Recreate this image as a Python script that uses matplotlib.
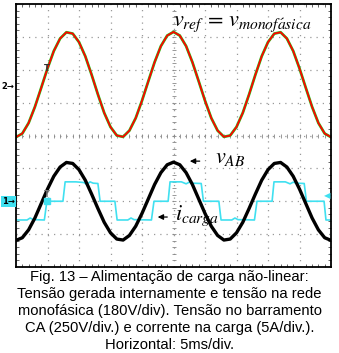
import numpy as np
import matplotlib
matplotlib.use("Agg")
from matplotlib import pyplot as plt

# Oscilloscope screen: 10 x 8 divisions, values read in divisions
# time axis sampled every 1/5 div (5ms/div)
t_div = np.arange(0, 10.01, 0.2)

# v_monofasica / v_ref (ch2, 180V/div)
v_mono = [-0.05, 0.06, 0.38, 0.87, 1.45, 2.04, 2.57, 2.95, 3.14, 3.10, 2.84, 2.41, 1.85,
          1.25, 0.69, 0.26, 0.00, -0.04, 0.15, 0.53, 1.06, 1.65, 2.23, 2.72, 3.04, 3.15,
          3.04, 2.72, 2.23, 1.65, 1.06, 0.53, 0.15, -0.04, 0.00, 0.26, 0.69, 1.25, 1.85,
          2.41, 2.84, 3.10, 3.14, 2.95, 2.57, 2.04, 1.45, 0.87, 0.38, 0.06, -0.05]
v_ref = list(v_mono)

# v_AB (ch1, 250V/div)
v_ab = [-3.19, -3.11, -2.87, -2.51, -2.07, -1.63, -1.24, -0.96, -0.82, -0.85, -1.04, -1.36,
        -1.78, -2.22, -2.64, -2.96, -3.15, -3.18, -3.04, -2.76, -2.37, -1.93, -1.49, -1.13,
        -0.89, -0.81, -0.89, -1.13, -1.49, -1.93, -2.37, -2.76, -3.04, -3.18, -3.15, -2.96,
        -2.64, -2.22, -1.78, -1.36, -1.04, -0.85, -0.82, -0.96, -1.24, -1.63, -2.07, -2.51,
        -2.87, -3.11, -3.19]

# i_carga (5A/div), three-level waveform, breakpoints
i_t = [0.00, 0.35, 0.45, 0.55, 0.90, 0.98, 1.49, 1.56, 1.90, 2.15, 2.25, 2.35, 2.45, 2.60,
       2.67, 3.14, 3.21, 3.55, 3.65, 3.75, 4.30, 4.38, 4.83, 4.89, 5.25, 5.40, 5.50, 5.60,
       5.88, 5.95, 6.44, 6.51, 6.85, 6.95, 7.05, 7.57, 7.65, 8.13, 8.19, 8.55, 8.70, 8.80,
       8.90, 9.15, 9.22, 9.78, 9.84, 10.0]
i_y = [-2.57, -2.57, -2.51, -2.56, -2.57, -2.00, -2.00, -1.41, -1.41, -1.43, -1.49, -1.41,
       -1.45, -1.46, -2.00, -2.00, -2.57, -2.57, -2.51, -2.56, -2.57, -2.00, -2.00, -1.41,
       -1.41, -1.47, -1.42, -1.45, -1.46, -2.00, -2.00, -2.57, -2.57, -2.51, -2.56, -2.57,
       -2.00, -2.00, -1.41, -1.41, -1.47, -1.42, -1.45, -1.46, -2.00, -2.00, -2.57, -2.57]

caption = ["Fig. 13 \u2013 Alimenta\u00e7\u00e3o de carga n\u00e3o-linear:",
           "Tens\u00e3o gerada internamente e tens\u00e3o na rede",
           "monof\u00e1sica (180V/div). Tens\u00e3o no barramento",
           "CA (250V/div.) e corrente na carga (5A/div.).",
           "Horizontal: 5ms/div."]

plt.rcParams['mathtext.fontset'] = 'stix'

fig = plt.figure(figsize=(3.39, 3.53), dpi=100)
ax = fig.add_axes([16/339, 86/353, 315/339, 263/353])
ax.set_xlim(0, 10)
ax.set_ylim(-4, 4)

# scope grid
ax.set_xticks(range(11))
ax.set_yticks(range(-4, 5))
ax.set_xticks(np.arange(0, 10.01, 0.2), minor=True)
ax.set_yticks(np.arange(-4, 4.01, 0.2), minor=True)
ax.grid(True, which='major', color='#999999', ls=(0, (1, 4)), lw=0.9)
ax.tick_params(which='both', direction='in', top=True, right=True,
               labelbottom=False, labelleft=False, color='#666666')
ax.tick_params(which='major', length=0)
ax.tick_params(which='minor', length=2.2, width=0.7)
for s in ax.spines.values():
    s.set_linewidth(1.3)

# center cross ticks
sub_x = np.arange(0, 10.01, 0.2)
sub_y = np.arange(-4, 4.01, 0.2)
ax.plot(sub_x, np.zeros_like(sub_x), ls='none', marker='|', ms=2.8, mew=0.6, color='#888888')
ax.plot(np.full_like(sub_y, 5.0), sub_y, ls='none', marker='_', ms=2.8, mew=0.6, color='#888888')

# traces
ax.plot(t_div, v_ref, color='#1fd01f', lw=2.0, solid_joinstyle='round')
ax.plot(t_div, v_mono, color='#ff0000', lw=1.3, solid_joinstyle='round')
ax.plot(i_t, i_y, color='#40e0f0', lw=1.2)
ax.plot(t_div, v_ab, color='black', lw=2.4, solid_joinstyle='round')

# trigger / channel markers
ax.text(0.98, 2.05, 'T', color='#333333', fontsize=6, fontweight='bold', ha='center', va='center')
ax.plot([0.98], [-2.0], ls='none', marker='s', ms=5, color='#40e0f0')
ax.text(0.98, -1.8, 'T', color='#777777', fontsize=6, fontweight='bold', ha='center', va='center')
ax.text(9.87, -1.83, '\u25c0', color='#40e0f0', fontsize=6, ha='center', va='center')

ax.text(-0.004, 1.5, '2\u2192', transform=ax.get_yaxis_transform(), fontsize=6,
        fontweight='bold', ha='right', va='center', clip_on=False)
ax.text(-0.004, -2.0, '1\u2192', transform=ax.get_yaxis_transform(), fontsize=6,
        fontweight='bold', ha='right', va='center', clip_on=False,
        bbox=dict(boxstyle='square,pad=0.1', fc='#40e0f0', ec='none'))

# labels
ax.text(4.98, 3.33, r'$v_{ref}\,=\,v_{monof\acute{a}sica}$', fontsize=16, va='baseline', ha='left')
ax.annotate('', xy=(5.43, -0.78), xytext=(5.92, -0.78),
            arrowprops=dict(arrowstyle='-|>', color='black', lw=0.9, mutation_scale=8))
ax.text(6.32, -0.84, r'$v_{AB}$', fontsize=16, va='baseline', ha='left')
ax.annotate('', xy=(4.41, -2.48), xytext=(4.89, -2.48),
            arrowprops=dict(arrowstyle='-|>', color='black', lw=0.9, mutation_scale=8))
ax.text(5.05, -2.57, r'$i_{carga}$', fontsize=16, va='baseline', ha='left')

# caption
baselines = [281, 298, 315.5, 332, 349]
for line, yb in zip(caption, baselines):
    fig.text(0.5, (353 - yb) / 353, line, ha='center', va='baseline',
             fontsize=10.6, family='Liberation Sans')

fig.savefig('out.png', dpi=100)
